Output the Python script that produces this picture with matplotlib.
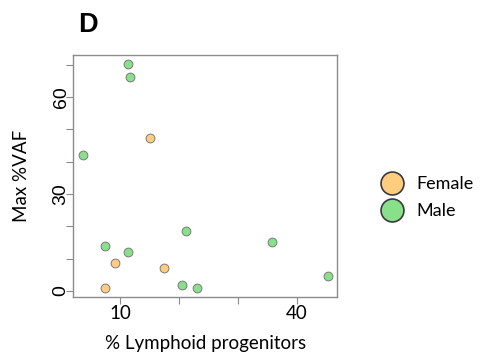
import matplotlib
matplotlib.use("Agg")
import matplotlib.pyplot as plt
from matplotlib.lines import Line2D

# % lymphoid progenitors vs max %VAF, split by sex
female_x = [15.0, 9.1, 7.5, 17.4]
female_y = [47.2, 8.7, 1.0, 7.2]
male_x = [11.4, 11.6, 3.7, 7.5, 11.4, 21.1, 20.5, 23.0, 35.8, 45.2]
male_y = [70.3, 66.3, 42.1, 14.0, 11.9, 18.6, 1.9, 1.0, 15.2, 4.6]

x_ticks = [10, 20, 30, 40]
x_labels = ["10", "", "", "40"]
y_ticks = [0, 10, 20, 30, 40, 50, 60, 70]
y_labels = ["0", "", "", "30", "", "", "60", ""]

orange = "#FFCD80"
green = "#88E08A"

plt.rcParams["font.family"] = ["Liberation Sans", "DejaVu Sans"]

fig = plt.figure(figsize=(4.84, 3.56), dpi=100)
ax = fig.add_axes([0.1508, 0.1657, 0.5455, 0.6798])

ax.scatter(female_x, female_y, s=40, c=orange, edgecolors="#7a7a7a", linewidths=0.7, zorder=3)
ax.scatter(male_x, male_y, s=40, c=green, edgecolors="#7a7a7a", linewidths=0.7, zorder=3)

ax.set_xlim(2.0, 46.8)
ax.set_ylim(-1.9, 73.0)

ax.set_xticks(x_ticks)
ax.set_xticklabels(x_labels, fontsize=13.5, family="Lato")
ax.set_yticks(y_ticks)
ax.set_yticklabels(y_labels, fontsize=14, rotation=90, va="center")

for side in ["left", "right", "top", "bottom"]:
    ax.spines[side].set_color("#8c8c8c")
    ax.spines[side].set_linewidth(1.0)
ax.tick_params(axis="both", direction="out", length=5, width=0.8, color="#8c8c8c")
ax.tick_params(axis="x", pad=1.0)
ax.tick_params(axis="y", pad=-2.5)

fig.text(0.044, 0.505, "Max %VAF", rotation=90, ha="center", va="center", fontsize=13.5, family="Lato")
fig.text(0.424, 0.036, "% Lymphoid progenitors", ha="center", va="center", fontsize=13.5, family="Lato")
fig.text(0.162, 0.93, "D", ha="left", va="center", fontsize=19.5, fontweight="bold")

handles = [
    Line2D([], [], marker="o", linestyle="none", markersize=16.5, markerfacecolor=orange,
           markeredgecolor="#3a3a3a", markeredgewidth=1.2, label="Female"),
    Line2D([], [], marker="o", linestyle="none", markersize=16.5, markerfacecolor=green,
           markeredgecolor="#3a3a3a", markeredgewidth=1.2, label="Male"),
]
fig.legend(handles=handles, loc="center left", bbox_to_anchor=(0.769, 0.445), frameon=False,
           prop={"family": "Lato", "size": 13}, handletextpad=0.75, labelspacing=0.62,
           borderpad=0, handlelength=1.2)

fig.savefig("out.png", dpi=100)
